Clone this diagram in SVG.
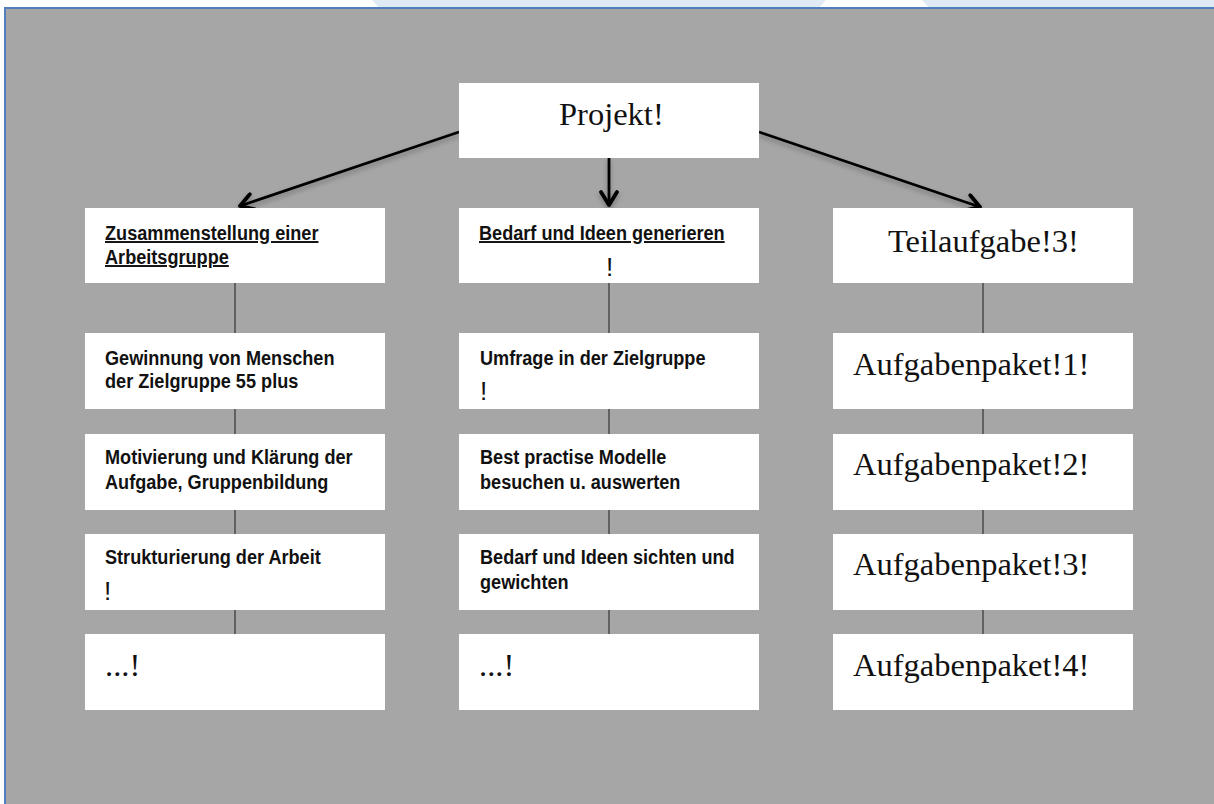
<svg xmlns="http://www.w3.org/2000/svg" width="1214" height="804" viewBox="0 0 1214 804">
<style>
.box{fill:#ffffff}
.sans{font-family:"Liberation Sans",Arial,sans-serif;font-weight:bold;font-size:19.5px;fill:#111}
.ul{text-decoration:underline}
.serif{font-family:"Liberation Serif","Times New Roman",serif;font-size:32.5px;fill:#111}
.bang{font-family:"Liberation Sans",Arial,sans-serif;font-size:26px;fill:#111}
.vline{stroke:#3c3c3c;stroke-width:1.3}
.arrow{stroke:#000;stroke-width:2.8;fill:none}
</style>
<defs>
<marker id="chev" markerUnits="userSpaceOnUse" viewBox="0 0 20 20" markerWidth="20" markerHeight="20" refX="16" refY="10" orient="auto">
<path d="M3,2 L16,10 L3,18" fill="none" stroke="#000" stroke-width="3.8" stroke-linecap="round" stroke-linejoin="round"/>
</marker>
<filter id="sh" x="-20%" y="-20%" width="140%" height="160%">
<feDropShadow dx="0" dy="3" stdDeviation="2.5" flood-color="#000" flood-opacity="0.3"/>
</filter>
</defs>
<rect x="0" y="0" width="1214" height="804" fill="#ffffff"/>
<path d="M372,0 L826,0 L818,9 L380,9 Z" fill="#dfeaf5"/>
<path d="M922,0 L1214,0 L1214,9 L930,9 Z" fill="#dfeaf5"/>
<rect x="5" y="8" width="1215" height="805" fill="#a6a6a6" stroke="#4f7fbd" stroke-width="2"/>

<g id="connectors">
<line class="vline" x1="235" y1="283" x2="235" y2="333"/>
<line class="vline" x1="235" y1="409" x2="235" y2="434"/>
<line class="vline" x1="235" y1="510" x2="235" y2="534"/>
<line class="vline" x1="235" y1="610" x2="235" y2="634"/>
<line class="vline" x1="609" y1="283" x2="609" y2="333"/>
<line class="vline" x1="609" y1="409" x2="609" y2="434"/>
<line class="vline" x1="609" y1="510" x2="609" y2="534"/>
<line class="vline" x1="609" y1="610" x2="609" y2="634"/>
<line class="vline" x1="983" y1="283" x2="983" y2="333"/>
<line class="vline" x1="983" y1="409" x2="983" y2="434"/>
<line class="vline" x1="983" y1="510" x2="983" y2="534"/>
<line class="vline" x1="983" y1="610" x2="983" y2="634"/>
<g filter="url(#sh)">
<line class="arrow" x1="459" y1="132" x2="240" y2="206" marker-end="url(#chev)"/>
<line class="arrow" x1="609" y1="158" x2="609" y2="205" marker-end="url(#chev)"/>
<line class="arrow" x1="759" y1="132" x2="980" y2="207" marker-end="url(#chev)"/>
</g>
</g>

<g id="projekt"><rect class="box" x="459" y="83" width="300" height="75"/><text class="serif" x="559" y="125">Projekt!</text></g>

<g id="c1r1"><rect class="box" x="85" y="208" width="300" height="75"/><g transform="translate(105 0) scale(0.93 1)"><text class="sans ul" x="0" y="240">Zusammenstellung einer</text><text class="sans ul" x="0" y="264">Arbeitsgruppe</text></g></g>
<g id="c1r2"><rect class="box" x="85" y="333" width="300" height="76"/><g transform="translate(105 0) scale(0.93 1)"><text class="sans" x="0" y="365">Gewinnung von Menschen</text><text class="sans" x="0" y="388">der Zielgruppe 55 plus</text></g></g>
<g id="c1r3"><rect class="box" x="85" y="434" width="300" height="76"/><g transform="translate(105 0) scale(0.93 1)"><text class="sans" x="0" y="464">Motivierung und Klärung der</text><text class="sans" x="0" y="489">Aufgabe, Gruppenbildung</text></g></g>
<g id="c1r4"><rect class="box" x="85" y="534" width="300" height="76"/><g transform="translate(105 0) scale(0.93 1)"><text class="sans" x="0" y="564">Strukturierung der Arbeit</text></g><text class="bang" x="104" y="600">!</text></g>
<g id="c1r5"><rect class="box" x="85" y="634" width="300" height="76"/><text class="serif" x="105" y="676">...!</text></g>

<g id="c2r1"><rect class="box" x="459" y="208" width="300" height="75"/><g transform="translate(479 0) scale(0.93 1)"><text class="sans ul" x="0" y="240">Bedarf und Ideen generieren</text></g><text class="bang" x="606" y="276">!</text></g>
<g id="c2r2"><rect class="box" x="459" y="333" width="300" height="76"/><g transform="translate(480 0) scale(0.93 1)"><text class="sans" x="0" y="365">Umfrage in der Zielgruppe</text></g><text class="bang" x="480" y="400">!</text></g>
<g id="c2r3"><rect class="box" x="459" y="434" width="300" height="76"/><g transform="translate(480 0) scale(0.93 1)"><text class="sans" x="0" y="464">Best practise Modelle</text><text class="sans" x="0" y="489">besuchen u. auswerten</text></g></g>
<g id="c2r4"><rect class="box" x="459" y="534" width="300" height="76"/><g transform="translate(480 0) scale(0.93 1)"><text class="sans" x="0" y="564">Bedarf und Ideen sichten und</text><text class="sans" x="0" y="589">gewichten</text></g></g>
<g id="c2r5"><rect class="box" x="459" y="634" width="300" height="76"/><text class="serif" x="479" y="676">...!</text></g>

<g id="c3r1"><rect class="box" x="833" y="208" width="300" height="75"/><text class="serif" x="888" y="252">Teilaufgabe!3!</text></g>
<g id="c3r2"><rect class="box" x="833" y="333" width="300" height="76"/><text class="serif" x="853" y="375">Aufgabenpaket!1!</text></g>
<g id="c3r3"><rect class="box" x="833" y="434" width="300" height="76"/><text class="serif" x="853" y="475">Aufgabenpaket!2!</text></g>
<g id="c3r4"><rect class="box" x="833" y="534" width="300" height="76"/><text class="serif" x="853" y="575">Aufgabenpaket!3!</text></g>
<g id="c3r5"><rect class="box" x="833" y="634" width="300" height="76"/><text class="serif" x="853" y="676">Aufgabenpaket!4!</text></g>
</svg>
